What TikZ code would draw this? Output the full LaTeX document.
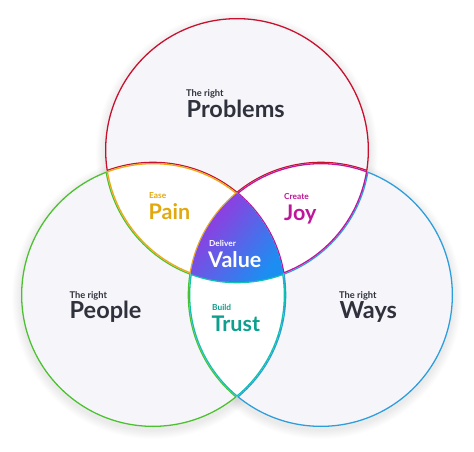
\documentclass[tikz,border=0pt]{standalone}
\usepackage{fontspec}
\setmainfont{Lato}
\definecolor{cT}{HTML}{C8102E}
\definecolor{cL}{HTML}{4CC130}
\definecolor{cR}{HTML}{2E9EDB}
\definecolor{cPain}{HTML}{F2A516}
\definecolor{cJoy}{HTML}{C2149E}
\definecolor{cTrust}{HTML}{12C2B0}
\definecolor{tPain}{HTML}{E2A90F}
\definecolor{tJoy}{HTML}{BF159A}
\definecolor{tTrust}{HTML}{0E9F8E}
\definecolor{vA}{HTML}{A42FDD}
\definecolor{vB}{HTML}{1C8EF2}
\definecolor{cFill}{HTML}{F6F6FA}
\definecolor{cText}{HTML}{2F313C}
\tikzset{
  edge/.style={line width=2.6pt},
  lbl/.style={anchor=base west, inner sep=0pt},
  small/.style={lbl, font=\fontsize{9.3}{10}\selectfont\bfseries},
  tiny/.style={lbl, font=\fontsize{8.3}{9}\selectfont\bfseries},
  big/.style={lbl, font=\fontsize{23.5}{24}\selectfont\bfseries},
  mid/.style={lbl, font=\fontsize{21.5}{22}\selectfont\bfseries},
}
\begin{document}
\begin{tikzpicture}[x=1pt,y=1pt]
\useasboundingbox (0,0) rectangle (474,451);
\fill[white] (0,0) rectangle (474,451);
\def\rad{132}
\coordinate (T) at (237,301);
\coordinate (L) at (153,156);
\coordinate (R) at (321,156);
% soft shadows
\foreach \i in {1,...,10}{
  \fill[black, opacity=0.009] ([yshift=-3pt]T) circle [radius=\rad+\i*0.9];
  \fill[black, opacity=0.009] ([yshift=-3pt]L) circle [radius=\rad+\i*0.9];
  \fill[black, opacity=0.009] ([yshift=-3pt]R) circle [radius=\rad+\i*0.9];
}
% circle fills
\fill[cFill] (T) circle (\rad) (L) circle (\rad) (R) circle (\rad);
% inner borders of single regions
\begin{scope}
  \clip (T) circle (\rad);
  \draw[edge, cT] (T) circle (\rad) (L) circle (\rad) (R) circle (\rad);
\end{scope}
\begin{scope}
  \clip (L) circle (\rad);
  \draw[edge, cL] (T) circle (\rad) (L) circle (\rad) (R) circle (\rad);
\end{scope}
\begin{scope}
  \clip (R) circle (\rad);
  \draw[edge, cR] (T) circle (\rad) (L) circle (\rad) (R) circle (\rad);
\end{scope}
% lenses
\begin{scope}
  \clip (T) circle (\rad);
  \clip (L) circle (\rad);
  \fill[white] (T) circle (\rad);
  \draw[edge, cPain] (T) circle (\rad) (L) circle (\rad) (R) circle (\rad);
\end{scope}
\begin{scope}
  \clip (T) circle (\rad);
  \clip (R) circle (\rad);
  \fill[white] (T) circle (\rad);
  \draw[edge, cJoy] (T) circle (\rad) (L) circle (\rad) (R) circle (\rad);
\end{scope}
\begin{scope}
  \clip (L) circle (\rad);
  \clip (R) circle (\rad);
  \fill[white] (L) circle (\rad);
  \draw[edge, cTrust] (T) circle (\rad) (L) circle (\rad) (R) circle (\rad);
\end{scope}
% centre
\begin{scope}
  \clip (T) circle (\rad);
  \clip (L) circle (\rad);
  \clip (R) circle (\rad);
  \shade[top color=vA, bottom color=vB, shading angle=50] (190,170) rectangle (284,260);
\end{scope}
% labels
\node[small, text=cText] (p1) at (186,355) {The right};
\node[big, text=cText] (p2) at (186.5,334) {Problems};
\node[small, text=cText] (q1) at (69.5,153) {The right};
\node[big, text=cText] (q2) at (69.5,133) {People};
\node[small, text=cText] (w1) at (339,153) {The right};
\node[big, text=cText] (w2) at (339.5,133) {Ways};
\node[tiny, text=tPain] (a1) at (149,252.5) {Ease};
\node[mid, text=tPain] (a2) at (148.5,231.5) {Pain};
\node[tiny, text=tJoy] (b1) at (284,252) {Create};
\node[mid, text=tJoy] (b2) at (284,231) {Joy};
\node[tiny, text=white] (c1) at (209,204.5) {Deliver};
\node[mid, text=white] (c2) at (208,184) {Value};
\node[tiny, text=tTrust] (d1) at (212,140.5) {Build};
\node[mid, text=tTrust] (d2) at (211.5,119.5) {Trust};
\end{tikzpicture}
\end{document}
